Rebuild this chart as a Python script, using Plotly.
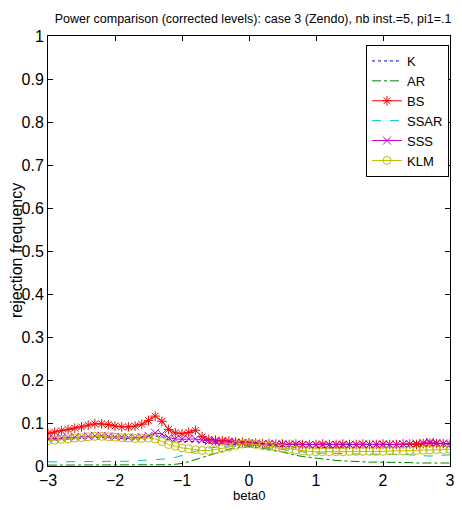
import numpy as np
import plotly.graph_objects as go

beta0 = np.round(np.linspace(-3, 3, 61), 2)

K = [.060, .061, .062, .063, .064, .065, .066, .067, .067, .066,
     .065, .064, .063, .063, .064, .066, .070, .068, .061, .058,
     .057, .057, .057, .055, .053, .052, .051, .050, .050, .050,
     .050, .049, .048, .047, .046, .045, .045, .044, .044, .043,
     .043, .043, .043, .043, .043, .043, .043, .044, .044, .044,
     .044, .044, .044, .045, .045, .045, .046, .047, .046, .045, .045]

AR = [.002, .002, .002, .002, .002, .002, .002, .002, .002, .002,
      .002, .002, .002, .002, .002, .002, .003, .003, .003, .004,
      .006, .010, .015, .020, .025, .030, .035, .039, .042, .044,
      .045, .044, .042, .039, .036, .032, .028, .025, .022, .020,
      .018, .016, .014, .013, .012, .011, .010, .010, .009, .009,
      .009, .008, .008, .008, .008, .007, .007, .007, .007, .007, .007]

BS = [.076, .079, .082, .085, .088, .091, .095, .098, .098, .096,
      .093, .091, .091, .093, .097, .106, .116, .104, .085, .077,
      .075, .078, .083, .068, .062, .060, .059, .058, .056, .055,
      .054, .053, .052, .052, .051, .051, .050, .051, .050, .050,
      .050, .051, .050, .050, .051, .050, .050, .051, .050, .050,
      .051, .050, .050, .051, .051, .050, .052, .053, .052, .052, .052]

SSAR = [.010, .009, .009, .010, .010, .010, .010, .011, .011, .010,
        .010, .011, .011, .012, .013, .014, .015, .016, .017, .020,
        .024, .029, .034, .039, .042, .044, .045, .046, .047, .047,
        .047, .046, .044, .042, .040, .038, .036, .034, .032, .031,
        .030, .030, .029, .029, .029, .028, .028, .028, .028, .028,
        .028, .028, .027, .027, .026, .025, .024, .023, .024, .025, .026]

SSS = [.063, .064, .065, .066, .067, .068, .069, .070, .070, .069,
       .068, .067, .066, .066, .067, .070, .077, .074, .066, .063,
       .062, .063, .063, .060, .058, .057, .056, .055, .054, .053,
       .052, .052, .051, .051, .050, .050, .050, .050, .049, .049,
       .049, .049, .049, .049, .049, .049, .049, .050, .050, .050,
       .050, .050, .050, .051, .051, .052, .054, .056, .054, .052, .050]

KLM = [.059, .060, .062, .063, .065, .066, .068, .069, .069, .068,
       .067, .066, .065, .064, .064, .065, .063, .057, .050, .046,
       .042, .040, .038, .036, .036, .038, .041, .044, .048, .051,
       .052, .050, .047, .045, .043, .041, .039, .037, .035, .034,
       .033, .033, .033, .033, .033, .034, .034, .034, .034, .034,
       .034, .035, .035, .035, .036, .036, .037, .037, .038, .038, .039]

names = ["K", "AR", "BS", "SSAR", "SSS", "KLM"]
series = [K, AR, BS, SSAR, SSS, KLM]
colors = ["#0000ff", "#008000", "#ff0000", "#00bfbf", "#bf00bf", "#bfbf00"]
dashes = ["dot", "dashdot", "solid", "dash", "solid", "solid"]
symbols = [None, None, "asterisk-open", None, "x-thin-open", "circle-open"]

fig = go.Figure()
for n, s, c, d, sym in zip(names, series, colors, dashes, symbols):
    if sym is None:
        fig.add_trace(go.Scatter(x=beta0, y=s, name=n, mode="lines",
                                 line=dict(color=c, dash=d, width=1)))
    else:
        fig.add_trace(go.Scatter(x=beta0, y=s, name=n, mode="lines+markers",
                                 line=dict(color=c, dash=d, width=1),
                                 marker=dict(symbol=sym, size=8,
                                             color=c, line=dict(color=c, width=1))))

# the page body has an 8px margin on every side; keep the figure inside the window
OFF = 8
W, H = 462 - 2 * OFF, 510 - 2 * OFF
L, T = 48 - OFF, 36 - OFF
R, B = W - (450 - OFF), H - (466 - OFF)
pw, ph = W - L - R, H - T - B

font = "Liberation Sans, Arial, Helvetica, sans-serif"
fig.update_layout(
    width=W, height=H,
    margin=dict(l=L, r=R, t=T, b=B, autoexpand=False),
    paper_bgcolor="white", plot_bgcolor="white",
    font=dict(family=font, size=16, color="black"),
    title=dict(text="Power comparison (corrected levels): case 3 (Zendo), nb inst.=5, pi1=.1",
               x=(253 - OFF) / W, xanchor="center", y=1 - (19 - OFF) / H, yanchor="middle",
               yref="container", font=dict(size=12.5)),
    showlegend=True,
    legend=dict(x=(449 - 48) / pw, y=1 - (45 - 36) / ph, xanchor="right", yanchor="top",
                bordercolor="black", borderwidth=1, bgcolor="white",
                font=dict(size=13), tracegroupgap=0),
    annotations=[
        dict(text="rejection frequency", xref="paper", yref="paper",
             x=-(48 - 16) / pw, y=0.5, xanchor="center", yanchor="middle",
             textangle=-90, showarrow=False, font=dict(size=16)),
        dict(text="beta0", xref="paper", yref="paper",
             x=0.5, y=-(495 - 466) / ph, xanchor="center", yanchor="middle",
             showarrow=False, font=dict(size=13)),
    ],
)
fig.update_xaxes(range=[-3, 3], dtick=1, tick0=-3, showline=True, mirror="ticks",
                 linecolor="black", linewidth=1, ticks="inside", ticklen=5,
                 tickcolor="black", showgrid=False, zeroline=False,
                 ticklabeloverflow="allow", automargin=False)
fig.update_yaxes(range=[0, 1], dtick=0.1, tick0=0, showline=True, mirror="ticks",
                 linecolor="black", linewidth=1, ticks="inside", ticklen=5,
                 tickcolor="black", showgrid=False, zeroline=False, automargin=False)

fig.write_html("out.html")
